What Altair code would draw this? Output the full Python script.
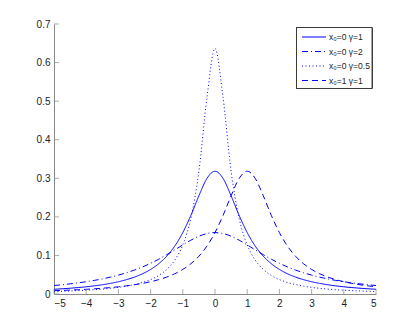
import altair as alt
import pandas as pd

x_vals = [-5, -4.75, -4.5, -4.25, -4, -3.75, -3.5, -3.25, -3, -2.75, -2.5, -2.25, -2, -1.75, -1.5, -1.25,
          -1, -0.75, -0.5, -0.25, 0, 0.25, 0.5, 0.75, 1, 1.25, 1.5, 1.75, 2, 2.25, 2.5, 2.75, 3, 3.25,
          3.5, 3.75, 4, 4.25, 4.5, 4.75, 5]

# half-curves read from 0 to 5 (symmetric series)
half_g1 = [0.3183, 0.2996, 0.2546, 0.2037, 0.1592, 0.1242, 0.0979, 0.0784, 0.0637, 0.0525, 0.0439,
           0.0372, 0.0318, 0.0275, 0.0240, 0.0211, 0.0187, 0.0167, 0.0150, 0.0135, 0.0122]
half_g2 = [0.1592, 0.1567, 0.1498, 0.1395, 0.1273, 0.1144, 0.1019, 0.0901, 0.0796, 0.0702, 0.0621,
           0.0551, 0.0490, 0.0437, 0.0392, 0.0352, 0.0318, 0.0289, 0.0263, 0.0240, 0.0220]
half_g05 = [0.6366, 0.5093, 0.3183, 0.1959, 0.1273, 0.0878, 0.0637, 0.0480, 0.0374, 0.0300, 0.0245,
            0.0204, 0.0172, 0.0147, 0.0127, 0.0111, 0.0098, 0.0087, 0.0078, 0.0070, 0.0063]
s_x1_g1 = [0.0086, 0.0093, 0.0102, 0.0111, 0.0122, 0.0135, 0.0150, 0.0167, 0.0187, 0.0211, 0.0240,
           0.0275, 0.0318, 0.0372, 0.0439, 0.0525, 0.0637, 0.0784, 0.0979, 0.1242, 0.1592, 0.2037,
           0.2546, 0.2996, 0.3183, 0.2996, 0.2546, 0.2037, 0.1592, 0.1242, 0.0979, 0.0784, 0.0637,
           0.0525, 0.0439, 0.0372, 0.0318, 0.0275, 0.0240, 0.0211, 0.0187]

s_x0_g1 = half_g1[:0:-1] + half_g1
s_x0_g2 = half_g2[:0:-1] + half_g2
s_x0_g05 = half_g05[:0:-1] + half_g05

names = ["x\u2080=0 \u03b3=1", "x\u2080=0 \u03b3=2", "x\u2080=0 \u03b3=0.5", "x\u2080=1 \u03b3=1"]
series = [s_x0_g1, s_x0_g2, s_x0_g05, s_x1_g1]

x_ticks = [-5, -4, -3, -2, -1, 0, 1, 2, 3, 4, 5]
y_ticks = [0, 0.1, 0.2, 0.3, 0.4, 0.5, 0.6, 0.7]

rows = []
for i, (n, s) in enumerate(zip(names, series)):
    for xv, yv in zip(x_vals, s):
        rows.append({"x": xv, "y": yv, "series": n, "order": i})
df = pd.DataFrame(rows)
leg_df = pd.DataFrame({"series": names, "row": list(range(len(names)))})

W, H = 322, 270
FONT = "Liberation Sans"
BLUE = "#0000ff"
AXC = "#888888"

xscale = alt.Scale(domain=[-5, 5], nice=False, zero=False)
yscale = alt.Scale(domain=[0, 0.7], nice=False)
dash_scale = alt.Scale(domain=names, range=[[1, 0], [6, 3, 1, 3], [1, 2.5], [6, 4]])

x_axis = alt.Axis(values=x_ticks, title=None, grid=False, ticks=False, labelPadding=4,
                  domainColor=AXC, labelColor="#222222", labelFontSize=10,
                  labelFont=FONT, format="d", labelOverlap=False)
y_axis = alt.Axis(values=y_ticks, title=None, grid=False, ticks=False, labelPadding=4,
                  domainColor=AXC, labelColor="#222222", labelFontSize=10,
                  labelFont=FONT, format=".1~f", labelOverlap=False)

lines = alt.Chart(df).mark_line(strokeWidth=1, interpolate="monotone", clip=True, color=BLUE).encode(
    x=alt.X("x:Q", scale=xscale, axis=x_axis),
    y=alt.Y("y:Q", scale=yscale, axis=y_axis),
    strokeDash=alt.StrokeDash("series:N", scale=dash_scale, legend=None),
    detail="series:N",
    order="order:Q",
)

xt = pd.DataFrame({"t": x_ticks})
yt = pd.DataFrame({"t": y_ticks})
xticks = alt.Chart(xt).mark_tick(color=AXC, size=5, thickness=1, orient="vertical").encode(
    x=alt.X("t:Q", scale=xscale, axis=x_axis), y=alt.value(H - 2.5))
yticks = alt.Chart(yt).mark_tick(color=AXC, size=5, thickness=1, orient="horizontal").encode(
    y=alt.Y("t:Q", scale=yscale, axis=y_axis), x=alt.value(2.5))

main = alt.layer(lines, xticks, yticks)

# legend drawn by hand
leg_y = alt.Y("row:Q", scale=alt.Scale(domain=[0, 3], range=[13, 56.5]), axis=None)
leg_box = alt.Chart(leg_df).mark_rect(fill="white", stroke="#222222", strokeWidth=0.8).encode(
    x=alt.value(242.5), x2=alt.value(318), y=alt.value(3.5), y2=alt.value(64.5))
leg_lines = alt.Chart(leg_df).mark_rule(color=BLUE, strokeWidth=1).encode(
    x=alt.value(248), x2=alt.value(272), y=leg_y,
    strokeDash=alt.StrokeDash("series:N", scale=dash_scale, legend=None),
)
leg_text = alt.Chart(leg_df).mark_text(align="left", baseline="middle", font=FONT, fontSize=8.5,
                                       color="#222222").encode(
    x=alt.value(275), y=leg_y, text="series:N")
legend = alt.layer(leg_box, leg_lines, leg_text)

chart = alt.layer(main, legend).resolve_scale(y="independent").properties(
    width=W, height=H,
    background="white",
    autosize=alt.AutoSizeParams(type="none"),
    padding={"left": 46, "top": 16, "right": 31, "bottom": 29},
).configure_view(stroke=None)

chart.save("out.html", embed_options={"renderer": "svg", "actions": False})
